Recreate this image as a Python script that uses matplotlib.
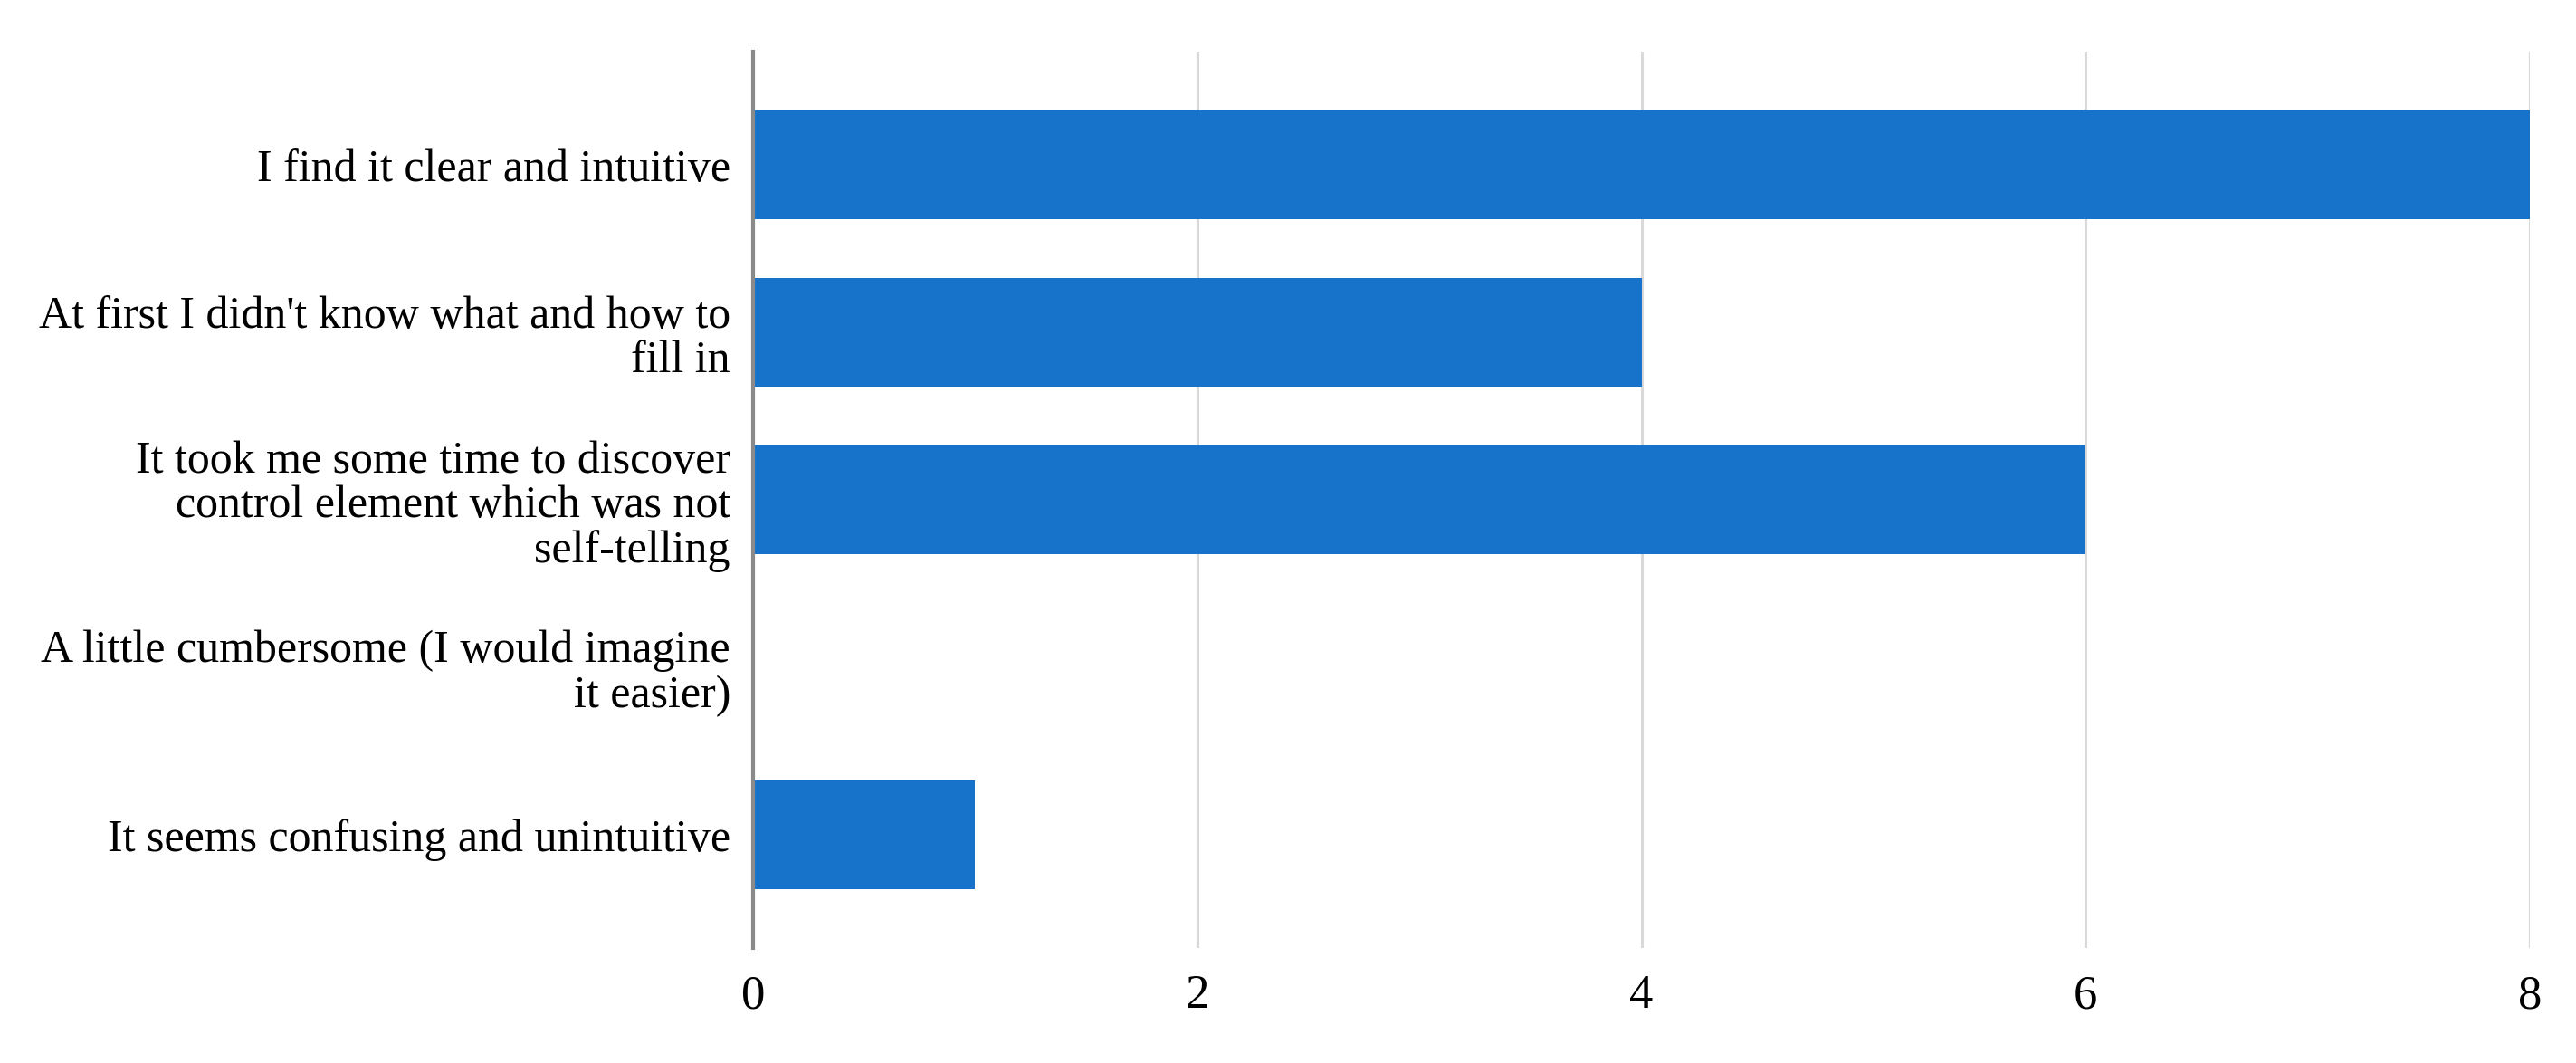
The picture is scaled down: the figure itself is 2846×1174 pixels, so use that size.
import matplotlib
matplotlib.use("Agg")
import matplotlib.pyplot as plt

categories = [
    "I find it clear and intuitive",
    "At first I didn't know what and how to\nfill in",
    "It took me some time to discover\ncontrol element which was not\nself-telling",
    "A little cumbersome (I would imagine\nit easier)",
    "It seems confusing and unintuitive",
]
values = [8, 4, 6, 0, 1]
x_ticks = [0, 2, 4, 6, 8]

plt.rcParams['font.family'] = ['Liberation Serif', 'DejaVu Serif']

fig = plt.figure(figsize=(28.46, 11.74), dpi=100)
ax = fig.add_axes([832/2846, 127/1174, (2795-832)/2846, (1047-57)/1174])

ypos = list(range(len(categories)))
ax.barh(ypos, values, height=0.65, color='#1773C9', zorder=3)

ax.set_xlim(0, 8)
ax.set_ylim(4.676, -0.676)
ax.set_xticks(x_ticks)
ax.set_xticklabels([str(t) for t in x_ticks], fontsize=38)
ax.set_yticks(ypos)
ax.set_yticklabels(categories, fontsize=36, linespacing=1.08)
ax.tick_params(axis='both', length=0)
ax.tick_params(axis='y', pad=18)
ax.tick_params(axis='x', pad=21)

ax.grid(axis='x', color='#d9d9d9', linewidth=2.2, zorder=0)
for s in ['top', 'right', 'bottom']:
    ax.spines[s].set_visible(False)
ax.spines['left'].set_color('#8a8a8a')
ax.spines['left'].set_linewidth(3)
ax.spines['left'].set_zorder(4)

fig.savefig('out.png', dpi=100, facecolor='white')
